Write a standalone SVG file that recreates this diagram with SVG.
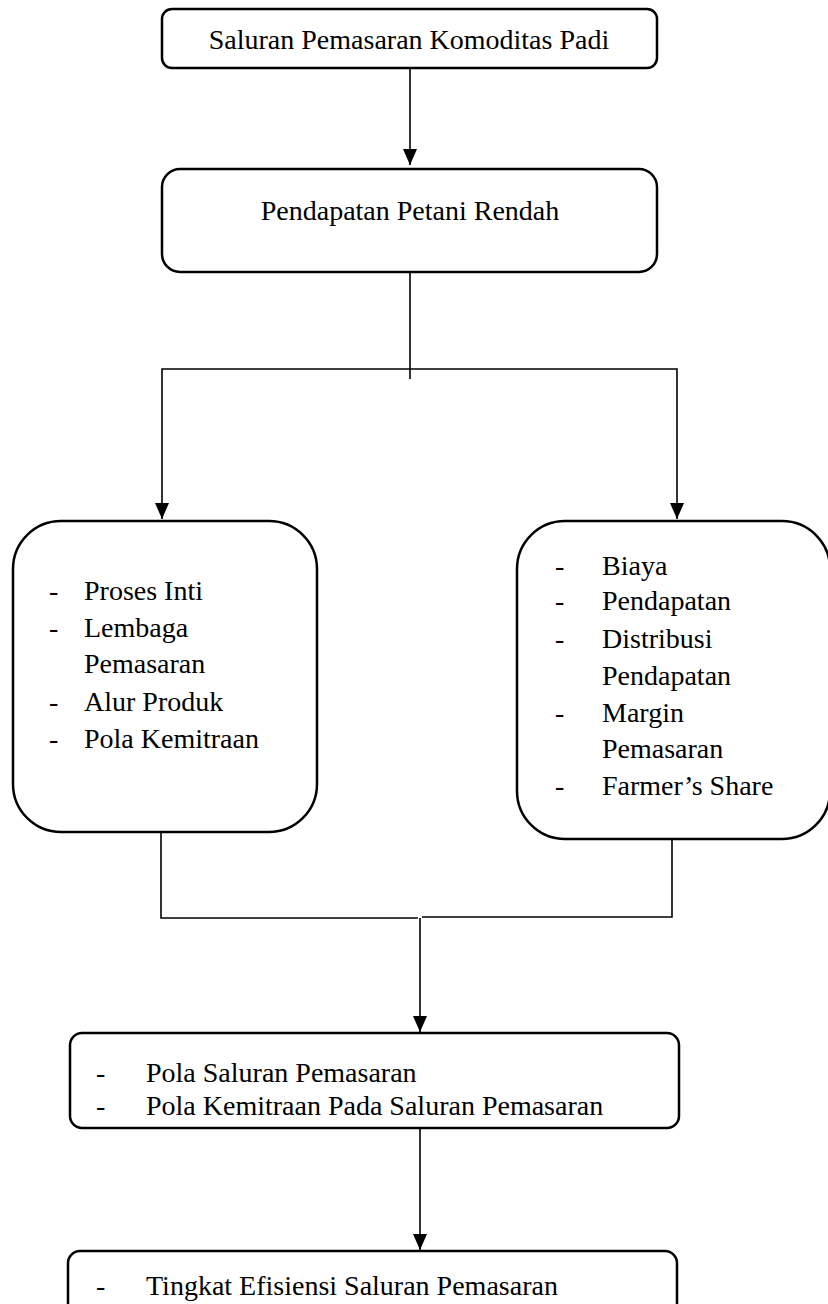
<svg xmlns="http://www.w3.org/2000/svg" width="828" height="1304" viewBox="0 0 828 1304">
<style>
.box{fill:#fff;stroke:#000;stroke-width:2.5}
.ln{fill:none;stroke:#000;stroke-width:1.6}
text{font-family:"Liberation Serif","Times New Roman",serif;font-size:28px;fill:#000}
.c{text-anchor:middle}
</style>
<defs>
<marker id="ah" viewBox="0 0 16 14" refX="16" refY="7" markerWidth="16" markerHeight="14" markerUnits="userSpaceOnUse" orient="auto-start-reverse">
<path d="M0,0 L16,7 L0,14 Z" fill="#000"/>
</marker>
</defs>
<rect width="828" height="1304" fill="#fff"/>
<g id="connectors">
<line class="ln" x1="410" y1="68" x2="410" y2="165" marker-end="url(#ah)"/>
<line class="ln" x1="410" y1="272" x2="410" y2="379"/>
<polyline class="ln" points="162,519 162,369 677,369 677,519" marker-start="url(#ah)" marker-end="url(#ah)"/>
<polyline class="ln" points="161,833 161,918 418,918"/>
<polyline class="ln" points="672,840 672,917 422,917"/>
<line class="ln" x1="420" y1="918" x2="420" y2="1032" marker-end="url(#ah)"/>
<line class="ln" x1="420" y1="1128" x2="420" y2="1250" marker-end="url(#ah)"/>
</g>
<g id="n1">
<rect class="box" x="162" y="9" width="495" height="59" rx="10"/>
<text class="c" x="409" y="49">Saluran Pemasaran Komoditas Padi</text>
</g>
<g id="n2">
<rect class="box" x="162" y="169" width="495" height="103" rx="18"/>
<text class="c" x="410" y="220">Pendapatan Petani Rendah</text>
</g>
<g id="n3">
<rect class="box" x="13" y="521" width="304" height="311" rx="48"/>
<text x="49" y="600">-</text><text x="84" y="600">Proses Inti</text>
<text x="49" y="637">-</text><text x="84" y="637">Lembaga</text>
<text x="84" y="673">Pemasaran</text>
<text x="49" y="711">-</text><text x="84" y="711">Alur Produk</text>
<text x="49" y="748">-</text><text x="84" y="748">Pola Kemitraan</text>
</g>
<g id="n4">
<rect class="box" x="517" y="521" width="313" height="318" rx="48"/>
<text x="555" y="575">-</text><text x="602" y="575">Biaya</text>
<text x="555" y="610">-</text><text x="602" y="610">Pendapatan</text>
<text x="555" y="648">-</text><text x="602" y="648">Distribusi</text>
<text x="602" y="685">Pendapatan</text>
<text x="555" y="722">-</text><text x="602" y="722">Margin</text>
<text x="602" y="758">Pemasaran</text>
<text x="555" y="795">-</text><text x="602" y="795">Farmer’s Share</text>
</g>
<g id="n5">
<rect class="box" x="70" y="1033" width="609" height="95" rx="12"/>
<text x="96" y="1082">-</text><text x="146" y="1082">Pola Saluran Pemasaran</text>
<text x="96" y="1115">-</text><text x="146" y="1115">Pola Kemitraan Pada Saluran Pemasaran</text>
</g>
<g id="n6">
<rect class="box" x="68" y="1251" width="609" height="66" rx="12"/>
<text x="96" y="1295">-</text><text x="146" y="1295">Tingkat Efisiensi Saluran Pemasaran</text>
</g>
</svg>
